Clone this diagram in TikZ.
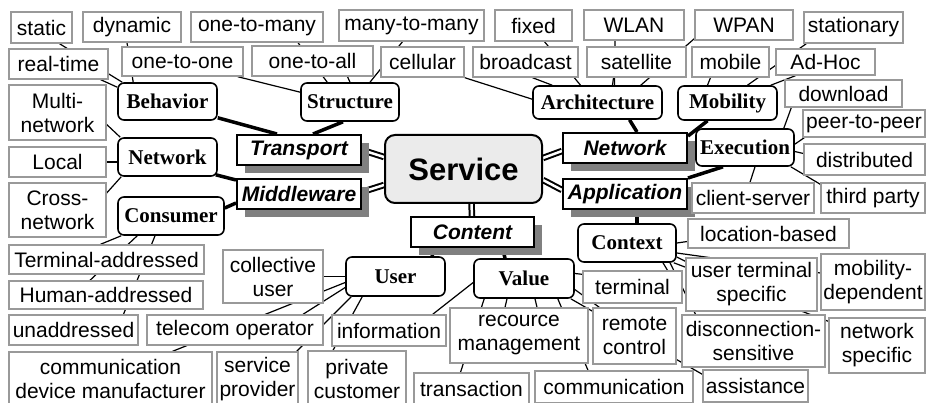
\documentclass[tikz,border=0pt]{standalone}
\usepackage{fontspec}
\setmainfont{Liberation Serif}
\setsansfont{Liberation Sans}
\usetikzlibrary{shadows, backgrounds}

\begin{document}
\begin{tikzpicture}[x=1pt, y=-1pt,
		leaf/.style={draw=black!40, line width=1.4pt, fill=white, inner sep=0pt, align=center,
			font=\sffamily\fontsize{21}{24}\selectfont},
		topic/.style={draw, line width=1.6pt, rounded corners=6pt, fill=white, inner sep=0pt,
			font=\rmfamily\bfseries\fontsize{21}{24}\selectfont},
		area/.style={draw, line width=2pt, fill=white, inner sep=0pt, minimum width=124, minimum height=30,
			font=\sffamily\bfseries\itshape\fontsize{21}{24}\selectfont,
			drop shadow={shadow xshift=8pt, shadow yshift=-8pt, fill=black!50, opacity=1}},
		link/.style={line width=1.2pt},
		branch/.style={line width=3.5pt},
		trunk/.style={line width=2pt, double=white, double distance=2.5pt}]

	\clip (0,0) rectangle (926,403);

	% centre
	\node[draw, line width=2pt, rounded corners=10pt, fill=black!8, minimum width=157, minimum height=68,
		font=\sffamily\bfseries\fontsize{31}{36}\selectfont] (service) at (463.5,169) {Service};

	\node[area] (transport) at (299,150) {Transport};
	\node[area] (middleware) at (299,194) {Middleware};
	\node[area] (network) at (625,148) {Network};
	\node[area] (application) at (625,194) {Application};
	\node[area, minimum width=123] (content) at (472.5,232) {Content};

	\node[topic, minimum width=99, minimum height=37] (behavior) at (167.5,101.5) {Behavior};
	\node[topic, minimum width=98, minimum height=38] (structure) at (350,102) {Structure};
	\node[topic, minimum width=129, minimum height=33] (architecture) at (597.5,102.5) {Architecture};
	\node[topic, minimum width=99, minimum height=34] (mobility) at (727.5,103) {Mobility};
	\node[topic, minimum width=98, minimum height=37] (execution) at (745,147.5) {Execution};
	\node[topic, minimum width=99, minimum height=38] (netsub) at (167.5,157) {Network};
	\node[topic, minimum width=106, minimum height=38] (consumer) at (171,216) {Consumer};
	\node[topic, minimum width=98, minimum height=38] (context) at (627,243) {Context};
	\node[topic, minimum width=99, minimum height=39] (user) at (395.5,276.5) {User};
	\node[topic, minimum width=100, minimum height=39] (value) at (524,278.5) {Value};

	% top rows
	\node[leaf, minimum width=61, minimum height=31] (static) at (41.5,27.5) {static};
	\node[leaf, minimum width=98, minimum height=30] (dynamic) at (132,27) {dynamic};
	\node[leaf, minimum width=132, minimum height=30] (onetomany) at (257,27) {one-to-many};
	\node[leaf, minimum width=145, minimum height=31] (manytomany) at (411.5,25.5) {many-to-many};
	\node[leaf, minimum width=77, minimum height=31] (fixed) at (533.5,25.5) {fixed};
	\node[leaf, minimum width=100, minimum height=30] (wlan) at (634,25) {WLAN};
	\node[leaf, minimum width=98, minimum height=30] (wpan) at (744,25) {WPAN};
	\node[leaf, minimum width=99, minimum height=31] (stationary) at (853.5,27.5) {stationary};

	\node[leaf, minimum width=99, minimum height=30] (realtime) at (58.5,64) {real-time};
	\node[leaf, minimum width=121, minimum height=29] (onetoone) at (182.5,61.5) {one-to-one};
	\node[leaf, minimum width=121, minimum height=30] (onetoall) at (312.5,61) {one-to-all};
	\node[leaf, minimum width=83, minimum height=30] (cellular) at (422.5,62) {cellular};
	\node[leaf, minimum width=105, minimum height=30] (broadcast) at (525.5,62) {broadcast};
	\node[leaf, minimum width=99, minimum height=30] (satellite) at (636.5,62) {satellite};
	\node[leaf, minimum width=77, minimum height=30] (mobile) at (730.5,62) {mobile};
	\node[leaf, minimum width=99, minimum height=26] (adhoc) at (825.5,62) {Ad-Hoc};

	% right side
	\node[leaf, minimum width=117, minimum height=27] (download) at (843.5,93.5) {download};
	\node[leaf, minimum width=122, minimum height=27] (peer) at (864,123.5) {peer-to-peer};
	\node[leaf, minimum width=121, minimum height=31] (distributed) at (864.5,159.5) {distributed};
	\node[leaf, minimum width=122, minimum height=30] (clientserver) at (753,198) {client-server};
	\node[leaf, minimum width=104, minimum height=30] (thirdparty) at (873,198) {third party};
	\node[leaf, minimum width=161, minimum height=29] (locbased) at (768.5,233.5) {location-based};
	\node[leaf, minimum width=131, minimum height=53] (utspec) at (751.5,284.5) {user terminal\\specific};
	\node[leaf, minimum width=104, minimum height=56] (mobdep) at (873,282) {mobility-\\dependent};
	\node[leaf, minimum width=143, minimum height=52] (disconn) at (753.5,341) {disconnection-\\sensitive};
	\node[leaf, minimum width=96, minimum height=55] (netspec) at (877,345.5) {network\\specific};

	% left side
	\node[leaf, minimum width=97, minimum height=55] (multinet) at (57.5,112.5) {Multi-\\network};
	\node[leaf, minimum width=97, minimum height=30] (local) at (57.5,162) {Local};
	\node[leaf, minimum width=97, minimum height=54] (crossnet) at (57.5,210) {Cross-\\network};
	\node[leaf, minimum width=195, minimum height=29] (termaddr) at (106.5,259.5) {Terminal-addressed};
	\node[leaf, minimum width=194, minimum height=28] (humanaddr) at (106,295) {Human-addressed};
	\node[leaf, minimum width=129, minimum height=30] (unaddr) at (73.5,330) {unaddressed};

	% bottom rows
	\node[leaf, minimum width=100, minimum height=53] (collective) at (273,276.5) {collective\\user};
	\node[leaf, minimum width=176, minimum height=30] (telecom) at (235,330) {telecom operator};
	\node[leaf, minimum width=114, minimum height=31] (information) at (389,330.5) {information};
	\node[leaf, minimum width=138, minimum height=55] (recource) at (519,335.5) {recource\\management};
	\node[leaf, minimum width=99, minimum height=32] (terminal) at (632.5,287) {terminal};
	\node[leaf, minimum width=83, minimum height=56] (remote) at (634.5,336) {remote\\control};
	\node[leaf, minimum width=203, minimum height=54] (devman) at (110.5,379) {communication\\device manufacturer};
	\node[leaf, minimum width=81, minimum height=54] (provider) at (257.5,379) {service\\provider};
	\node[leaf, minimum width=98, minimum height=56] (private) at (357,379) {private\\customer};
	\node[leaf, minimum width=115, minimum height=32] (transaction) at (471.5,389) {transaction};
	\node[leaf, minimum width=158, minimum height=32] (communication) at (614,387) {communication};
	\node[leaf, minimum width=105, minimum height=32] (assistance) at (755.5,386) {assistance};

	\begin{scope}[on background layer]
		\draw[trunk] ([yshift=12pt]service.west) -- (transport.east);
		\draw[trunk] ([yshift=-16pt]service.west) -- ([yshift=2pt]middleware.east);
		\draw[trunk] ([yshift=11pt]service.east) -- ([yshift=-3pt]network.west);
		\draw[trunk] ([yshift=-11pt]service.east) -- ([yshift=4pt]application.west);
		\draw[trunk] ([xshift=8pt]service.south) -- ([xshift=-0.5pt]content.north);

		\draw[branch] ([yshift=3pt]behavior.south east) -- ([xshift=-22pt]transport.north);
		\draw[branch] ([xshift=-7pt]structure.south) -- ([xshift=14pt]transport.north);
		\draw[branch] ([xshift=-2pt,yshift=2pt]netsub.south east) -- ([yshift=-2pt]middleware.north west);
		\draw[branch] ([yshift=8pt]consumer.east) -- ([yshift=-9pt]middleware.west);
		\draw[branch] ([xshift=32pt]architecture.south) -- ([xshift=12pt]network.north);
		\draw[branch] ([xshift=-20pt]mobility.south) -- ([yshift=-4pt]network.north east);
		\draw[branch] (application.north east) -- ([xshift=-22pt]execution.south);
		\draw[branch] ([xshift=12pt]application.south) -- ([xshift=10pt]context.north);
		\draw[branch] ([xshift=-42pt]content.south) -- ([xshift=37pt]user.north);
		\draw[branch] ([xshift=30pt]content.south) -- ([xshift=-19pt]value.north);

		\draw[link] ([xshift=18pt]static.south) -- ([xshift=5pt]behavior.north west);
		\draw[link] ([xshift=-5pt]dynamic.south) -- ([xshift=16pt]behavior.north west);
		\draw[link] ([xshift=-8pt]realtime.south east) -- ([yshift=-5pt]behavior.north west);

		\draw[link] ([xshift=-6pt]onetoone.south east) -- ([yshift=-10pt]structure.north west);
		\draw[link] ([xshift=41pt]onetomany.south) -- ([xshift=27pt]structure.north west);
		\draw[link] ([xshift=35pt]onetoall.south) -- (structure.north);
		\draw[link] ([xshift=-9pt]manytomany.south) -- ([xshift=20pt]structure.north);

		\draw[link] (cellular.south east) -- ([yshift=-14pt]architecture.north west);
		\draw[link] ([xshift=7pt]broadcast.south) -- ([xshift=20pt]architecture.north west);
		\draw[link] ([xshift=11pt]fixed.south) -- ([xshift=-17pt]architecture.north);
		\draw[link] ([xshift=-19pt]wlan.south) -- ([xshift=17pt]architecture.north);
		\draw[link] ([xshift=-23pt]satellite.south) -- ([xshift=15pt]architecture.north);
		\draw[link] ([yshift=2pt]wpan.south west) -- ([xshift=-22pt]architecture.north east);

		\draw[link] ([xshift=-20pt]mobile.south) -- ([xshift=-20pt]mobility.north);
		\draw[link] ([xshift=-30pt]adhoc.south) -- ([xshift=-7pt]mobility.north east);
		\draw[link] ([xshift=3pt]stationary.south west) -- ([xshift=20pt]mobility.north);

		\draw[link] ([xshift=7pt]download.south west) -- ([xshift=-11pt]execution.north east);
		\draw[link] ([xshift=2pt]peer.south west) -- ([yshift=-16pt]execution.north east);
		\draw[link] ([yshift=6pt]distributed.west) -- ([yshift=-4pt]execution.east);
		\draw[link] ([xshift=-3pt]clientserver.north) -- ([xshift=10pt]execution.south);
		\draw[link] ([yshift=-2pt]thirdparty.north west) -- ([xshift=-4pt]execution.south east);

		\draw[link] ([yshift=-12pt]multinet.east) -- ([xshift=3pt]netsub.north west);
		\draw[link] (local.east) -- ([yshift=-5pt]netsub.west);
		\draw[link] ([yshift=17pt]crossnet.east) -- ([xshift=4pt]netsub.south west);

		\draw[link] ([xshift=4pt]consumer.south west) -- ([xshift=-6pt]termaddr.north);
		\draw[link] ([xshift=20pt]consumer.south west) -- ([xshift=-16pt]humanaddr.north);
		\draw[link] ([xshift=-16pt]consumer.south) -- ([xshift=50pt]unaddr.north);

		\draw[link] (collective.east) -- (user.west);
		\draw[link] ([yshift=-6pt]user.west) -- ([xshift=62pt]devman.north);
		\draw[link] ([yshift=-11pt]user.west) -- ([xshift=68pt]telecom.north);
		\draw[link] ([xshift=6pt]user.south west) -- ([xshift=-2pt]provider.north east);
		\draw[link] ([xshift=17pt]user.south west) -- ([xshift=-24pt]private.north);

		\draw[link] ([yshift=-4pt]value.west) -- ([xshift=-14pt]information.north east);
		\draw[link] ([yshift=5pt]value.east) -- ([yshift=-4pt]terminal.north west);
		\draw[link] ([yshift=-11pt]value.east) -- ([xshift=7pt]remote.north west);
		\draw[link] ([xshift=-17pt]value.south) -- ([xshift=-14pt]recource.north);
		\draw[link] ([xshift=11pt]value.south) -- ([xshift=18pt]recource.north);
		\draw[link] ([xshift=11pt]value.south west) -- ([xshift=-11pt]transaction.north);
		\draw[link] ([xshift=-17pt]value.south east) -- ([xshift=-26pt]communication.north);
		\draw[link] ([xshift=-4pt]value.south east) -- ([yshift=-5pt]assistance.north west);

		\draw[link] (context.east) -- ([yshift=-8pt]locbased.west);
		\draw[link] ([yshift=-10pt]context.east) -- ([yshift=9pt]mobdep.west);
		\draw[link] ([yshift=-14pt]context.east) -- ([yshift=-4pt]utspec.north west);
		\draw[link] ([xshift=36pt]context.south) -- ([xshift=35pt]terminal.north);
		\draw[link] ([xshift=43pt]context.south) -- ([xshift=-58pt]disconn.north);
		\draw[link] ([xshift=-3pt]context.south east) -- ([yshift=-4pt]netspec.north west);
	\end{scope}
\end{tikzpicture}
\end{document}
